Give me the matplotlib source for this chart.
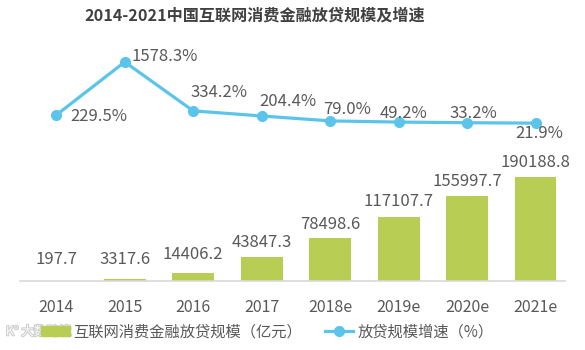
import matplotlib.pyplot as plt
import matplotlib.patheffects as pe
from matplotlib.patches import Patch
from matplotlib.lines import Line2D

plt.rcParams['font.family'] = ['Noto Sans CJK SC', 'DejaVu Sans']

years = ['2014', '2015', '2016', '2017', '2018e', '2019e', '2020e', '2021e']
scale = [197.7, 3317.6, 14406.2, 43847.3, 78498.6, 117107.7, 155997.7, 190188.8]
growth = [229.5, 1578.3, 334.2, 204.4, 79.0, 49.2, 33.2, 21.9]

# label offsets (pixels): bar labels above the bar top, growth labels around each point
scale_offsets = [21, 20, 19, 14, 13, 15, 14, 14]
growth_offsets = [(14, -2), (7, 5), (26, 18), (26, 14), (17, 11), (5, 9), (6, 9), (4, -10)]

bar_color = '#b7cd53'
line_color = '#5bc4ea'
text_color = '#595959'

fig = plt.figure(figsize=(5.85, 3.5), dpi=100)
ax = fig.add_axes([20 / 585, 69 / 350, 545 / 585, 241 / 350])
x = list(range(len(years)))

ax.bar(x, scale, width=0.61, color=bar_color, zorder=2)
ax.set_xlim(-0.53, 7.43)
ax.set_ylim(0, 439800)
for xi, v, dy in zip(x, scale, scale_offsets):
    ax.annotate(f'{v:.1f}', (xi, v), xytext=(0, dy * 0.72), textcoords='offset points',
                ha='center', va='center', fontsize=12, color=text_color)

for s in ['top', 'right', 'left']:
    ax.spines[s].set_visible(False)
ax.spines['bottom'].set_color('#d9d9d9')
ax.spines['bottom'].set_linewidth(1.2)
ax.set_yticks([])
ax.set_xticks(x)
ax.set_xticklabels(years, fontsize=11.5, color=text_color)
ax.tick_params(axis='x', length=0, pad=13)

ax2 = ax.twinx()
ax2.set_ylim(-3995, 2138)
ax2.plot(x, growth, color=line_color, lw=2.3, marker='o', ms=7, zorder=3)
ax2.axis('off')
for xi, v, (dx, dy) in zip(x, growth, growth_offsets):
    ax2.annotate(f'{v:.1f}%', (xi, v), xytext=(dx * 0.72, dy * 0.72),
                 textcoords='offset points', ha='left' if xi < 2 else 'center',
                 va='center', fontsize=12, color=text_color)

fig.text(0.436, 0.957, '2014-2021中国互联网消费金融放贷规模及增速', ha='center', va='center',
         fontsize=11.6, fontweight='bold', color='#404040')

handles = [Patch(color=bar_color),
           Line2D([0], [0], color=line_color, lw=2.3, marker='o', ms=7)]
labels = ['互联网消费金融放贷规模（亿元）', '放贷规模增速（%）']
fig.legend(handles, labels, loc='center', bbox_to_anchor=(0.457, 0.052), ncol=2,
           frameon=False, fontsize=11, handlelength=1.85, handleheight=0.6,
           columnspacing=1.5, handletextpad=0.25, labelcolor=text_color)

# faint watermark in the lower left corner
fig.text(0.01, 0.052, 'K° 大数跨境', fontsize=9, color='white', alpha=0.9, va='center',
         path_effects=[pe.withStroke(linewidth=1.5, foreground='#c8c8c8')])

fig.savefig('out.png', dpi=100, facecolor='white')
